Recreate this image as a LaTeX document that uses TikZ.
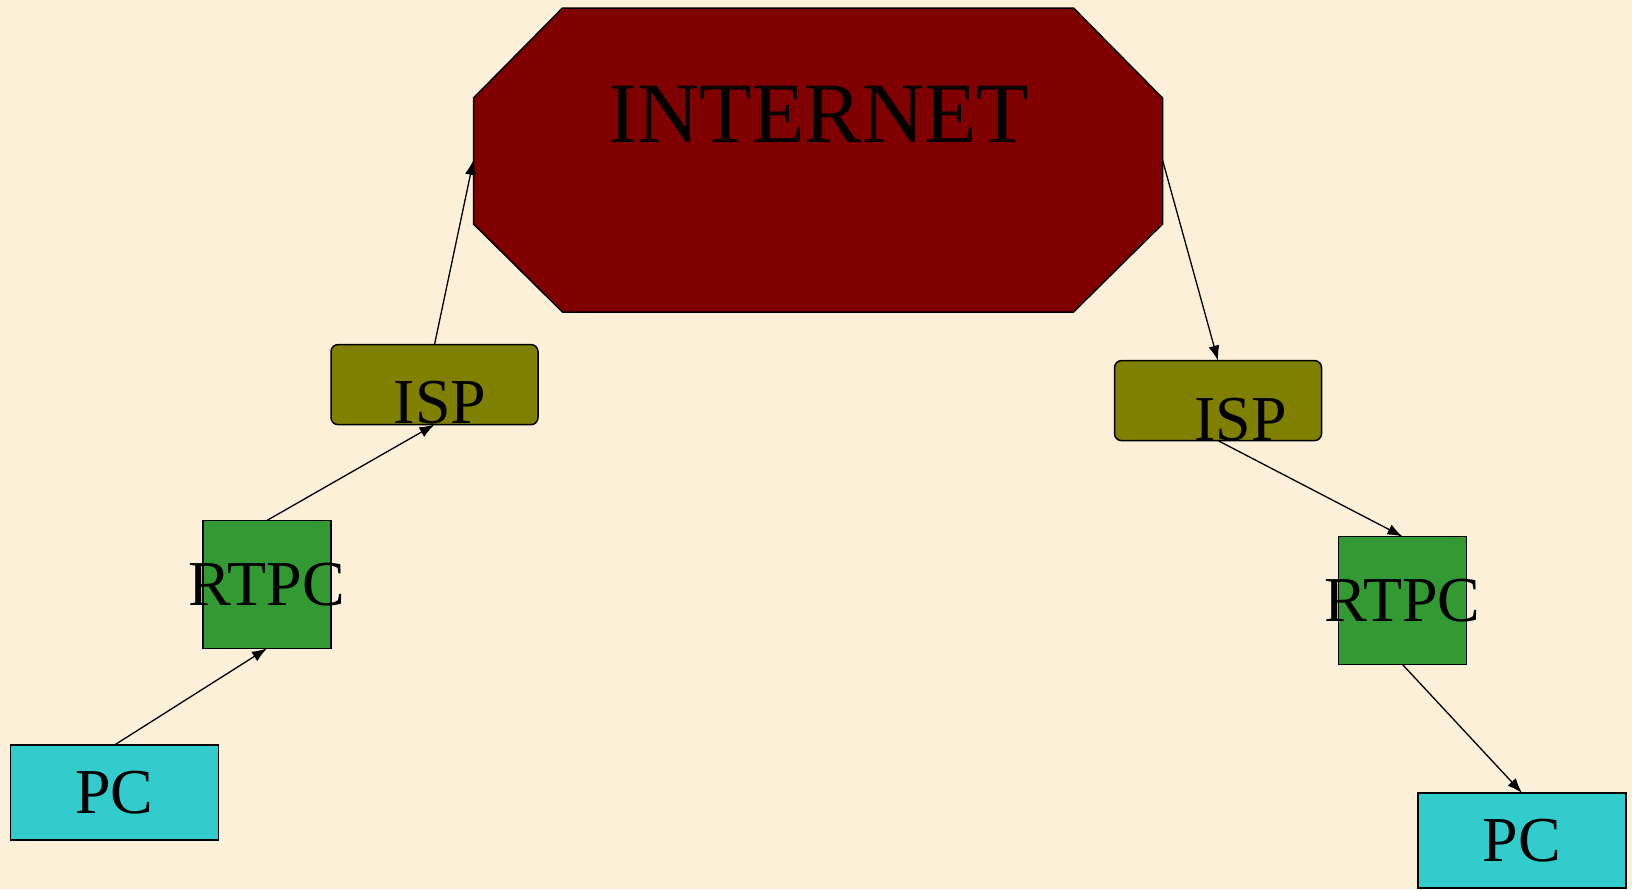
\documentclass[tikz,border=0pt]{standalone}
\usepackage{fontspec}
\setmainfont{Liberation Serif}
\usepackage{tikz}
\usetikzlibrary{arrows.meta}

\definecolor{paper}{RGB}{252,240,217}
\definecolor{netred}{RGB}{128,0,0}
\definecolor{ispolive}{RGB}{128,128,0}
\definecolor{rtgreen}{RGB}{51,153,51}
\definecolor{pccyan}{RGB}{51,204,204}

\begin{document}
\begin{tikzpicture}[x=1pt,y=-1pt,
    box/.style={draw,line width=1.5pt,inner sep=0pt,outer sep=0pt,font=\fontsize{64}{70}\selectfont},
    pcbox/.style={box,fill=pccyan,minimum width=208pt,minimum height=95pt},
    rtbox/.style={box,fill=rtgreen,inner xsep=-20pt,minimum width=128pt,minimum height=128pt},
    ispbox/.style={box,fill=ispolive,rounded corners=7pt,minimum width=207pt,minimum height=80pt},
    netbox/.style={inner sep=0pt,outer sep=0pt,minimum width=689pt,minimum height=304pt},
    bigtext/.style={inner sep=0pt,font=\fontsize{64}{70}\selectfont},
    link/.style={line width=1.3pt,-{Latex[length=15pt,width=11pt]}}]

    \fill[paper] (0,0) rectangle (1632,889);
    \useasboundingbox (0,0) rectangle (1632,889);

    \node[netbox]      (net)   at (818,160)       {};
    % octagon round the INTERNET node
    \filldraw[fill=netred,line width=1.5pt]
      ([xshift=89pt]net.north west) -- ([xshift=-89pt]net.north east)
      -- ([yshift=-90pt]net.north east) -- ([yshift=88pt]net.south east)
      -- ([xshift=-89pt]net.south east) -- ([xshift=89pt]net.south west)
      -- ([yshift=88pt]net.south west) -- ([yshift=-90pt]net.north west) -- cycle;
    \node[inner sep=0pt,font=\fontsize{86}{90}\selectfont] (nettxt) at (819,114.5) {INTERNET};

    \node[ispbox]      (ispL)  at (434.5,384.6)   {};
    \node[bigtext]     (ispLtxt) at (440,403)     {ISP};
    \node[ispbox]      (ispR)  at (1218,400.6)    {};
    \node[bigtext]     (ispRtxt) at (1240.6,419.4) {ISP};

    \node[rtbox]       (rtL)   at (267,584.4)     {RTPC};
    \node[rtbox]       (rtR)   at (1402.5,600.5)  {RTPC};

    \node[pcbox]       (pcL)   at (114.5,792.5)   {PC};
    \node[pcbox]       (pcR)   at (1522,840.5)    {PC};


    \draw (pcL.north) edge[link]  (rtL.south);
    \draw (rtL.north) edge[link]  (ispL.south);
    \draw (ispL.north) edge[link] (net.west);
    \draw (net.east) edge[link]   (ispR.north);
    \draw (ispR.south) edge[link] (rtR.north);
    \draw (rtR.south) edge[link]  (pcR.north);
  \end{tikzpicture}
\end{document}
